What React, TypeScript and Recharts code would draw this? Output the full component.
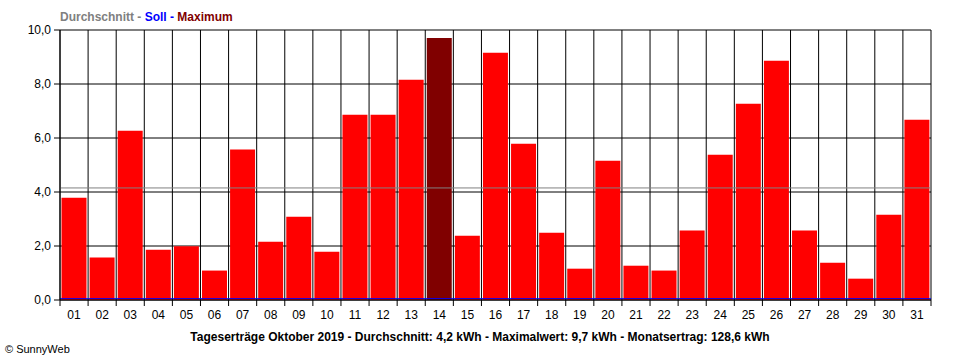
import {Bar, BarChart, CartesianGrid, Cell, ReferenceLine, XAxis, YAxis} from 'recharts'

const DAYS = ['01', '02', '03', '04', '05', '06', '07', '08', '09', '10', '11', '12', '13', '14', '15', '16',
  '17', '18', '19', '20', '21', '22', '23', '24', '25', '26', '27', '28', '29', '30', '31']
const YIELD_KWH = [3.79, 1.57, 6.27, 1.86, 1.99, 1.09, 5.57, 2.16, 3.08, 1.79, 6.86, 6.86, 8.16, 9.7, 2.38, 9.16,
  5.79, 2.49, 1.16, 5.16, 1.27, 1.09, 2.57, 5.38, 7.27, 8.86, 2.57, 1.38, 0.79, 3.16, 6.68]
const Y_TICKS = [0, 2, 4, 6, 8, 10]
const AVERAGE = 4.15
const SOLL = 0.05

const FONT = '"Liberation Sans", Arial, sans-serif'

const data = DAYS.map((day, i) => ({ day, value: YIELD_KWH[i] }))
const maxIdx = YIELD_KWH.indexOf(Math.max(...YIELD_KWH))

const fmt = (v: number) => v.toFixed(1).replace('.', ',')

function DayTick(props: any) {
  const { x, y, payload, index, width, visibleTicksCount } = props
  const step = (width ?? 871) / (visibleTicksCount ?? DAYS.length)
  const left = x - step / 2
  return (
    <g>
      <line x1={left} x2={left} y1={y - 8} y2={y - 2} stroke="#000" />
      {index === DAYS.length - 1 && <line x1={x + step / 2} x2={x + step / 2} y1={y - 8} y2={y - 2} stroke="#000" />}
      <text x={x} y={y} dy={11} textAnchor="middle" fontSize={12} fontFamily={FONT} fill="#000">
        {payload.value}
      </text>
    </g>
  )
}

export default function App() {
  return (
    <div style={{ position: 'absolute', left: 0, top: 0, width: 960, height: 360, background: '#fff' }}>
      <BarChart
        width={960}
        height={360}
        data={data}
        margin={{ top: 30, right: 29, bottom: 40, left: 0 }}
        barCategoryGap={1.5}
      >
        <CartesianGrid
          stroke="#000"
          verticalCoordinatesGenerator={({ offset }: any) =>
            Array.from({ length: DAYS.length + 1 }, (_, i) => offset.left + (i * offset.width) / DAYS.length)
          }
        />
        <XAxis
          dataKey="day"
          height={20}
          interval={0}
          tickLine={false}
          axisLine={{ stroke: '#000' }}
          tick={<DayTick />}
        />
        <YAxis
          width={60}
          domain={[0, 10]}
          ticks={Y_TICKS}
          tickFormatter={fmt}
          tickSize={6}
          tickMargin={3}
          axisLine={{ stroke: '#000' }}
          tickLine={{ stroke: '#000' }}
          tick={{ fill: '#000', fontSize: 12, fontFamily: FONT }}
        />
        <Bar dataKey="value" isAnimationActive={false}>
          {data.map((d, i) => (
            <Cell key={d.day} fill={i === maxIdx ? '#800000' : '#FF0000'} />
          ))}
        </Bar>
        <ReferenceLine y={AVERAGE} stroke="#808080" strokeWidth={1} />
        <ReferenceLine y={SOLL} stroke="#0000FF" strokeWidth={1} />
      </BarChart>
      <svg width={960} height={360} style={{ position: 'absolute', left: 0, top: 0, pointerEvents: 'none' }}>
        <text x={60} y={21} fontSize={12} fontWeight="bold" fontFamily={FONT}>
          <tspan fill="#808080">Durchschnitt - </tspan>
          <tspan fill="#0000FF">Soll - </tspan>
          <tspan fill="#800000">Maximum</tspan>
        </text>
        <text x={480} y={341} textAnchor="middle" fontSize={12} fontWeight="bold" fontFamily={FONT} fill="#000">
          Tageserträge Oktober 2019 - Durchschnitt: {fmt(4.2)} kWh - Maximalwert: {fmt(9.7)} kWh - Monatsertrag: 128,6 kWh
        </text>
        <text x={5} y={353} fontSize={11} fontFamily={FONT} fill="#000">
          © SunnyWeb
        </text>
      </svg>
    </div>
  )
}
